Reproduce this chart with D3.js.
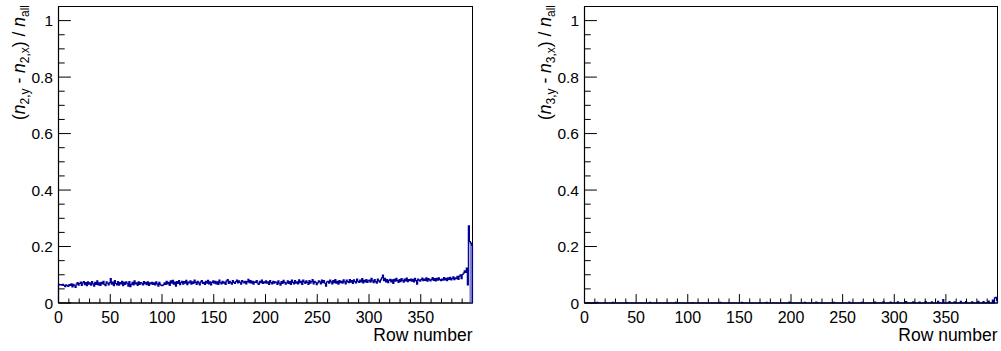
<!DOCTYPE html>
<html>
<head>
<meta charset="utf-8">
<script src="https://cdn.jsdelivr.net/npm/d3@7"></script>
<style>
  html, body { margin: 0; padding: 0; background: #fff; }
  svg { display: block; font-family: "Liberation Sans", Arial, sans-serif; }
</style>
</head>
<body>
<svg id="chart" width="1001" height="351"></svg>
<script>
// Row-by-row asymmetry, 400 rows (bins of width 1)
const rowCount = 400;

// (n2,y - n2,x) / n_all for rows 0..399
const asym2 = [
  0.066,0.064,0.065,0.063,0.066,0.062,0.058,0.064,0.061,0.059,
  0.065,0.062,0.068,0.057,0.066,0.061,0.055,0.067,0.072,0.063,
  0.069,0.074,0.062,0.071,0.076,0.065,0.072,0.061,0.075,0.067,
  0.071,0.063,0.076,0.068,0.060,0.073,0.066,0.078,0.064,0.071,
  0.062,0.073,0.068,0.077,0.066,0.061,0.075,0.070,0.064,0.072,
  0.086,0.067,0.074,0.061,0.079,0.069,0.064,0.076,0.063,0.072,
  0.068,0.077,0.061,0.073,0.066,0.075,0.070,0.060,0.076,0.058,
  0.066,0.073,0.064,0.078,0.068,0.071,0.062,0.075,0.066,0.072,
  0.070,0.064,0.076,0.068,0.073,0.065,0.075,0.062,0.071,0.068,
  0.073,0.066,0.071,0.064,0.075,0.068,0.060,0.073,0.066,0.062,
  0.061,0.065,0.071,0.066,0.077,0.068,0.073,0.062,0.078,0.070,
  0.080,0.067,0.074,0.060,0.076,0.069,0.079,0.065,0.072,0.077,
  0.067,0.076,0.070,0.080,0.065,0.074,0.071,0.078,0.067,0.075,
  0.069,0.081,0.073,0.066,0.077,0.071,0.064,0.075,0.079,0.069,
  0.073,0.066,0.077,0.070,0.080,0.068,0.075,0.064,0.073,0.078,
  0.070,0.077,0.068,0.075,0.066,0.081,0.072,0.068,0.077,0.070,
  0.074,0.066,0.078,0.083,0.069,0.077,0.072,0.067,0.079,0.073,
  0.069,0.076,0.081,0.071,0.078,0.073,0.067,0.079,0.075,0.071,
  0.077,0.068,0.076,0.084,0.072,0.079,0.070,0.077,0.067,0.075,
  0.073,0.079,0.070,0.066,0.077,0.072,0.081,0.069,0.075,0.071,
  0.078,0.070,0.075,0.066,0.079,0.072,0.068,0.077,0.070,0.075,
  0.073,0.066,0.078,0.070,0.063,0.076,0.069,0.080,0.073,0.067,
  0.071,0.078,0.069,0.076,0.066,0.081,0.073,0.068,0.079,0.070,
  0.075,0.068,0.082,0.072,0.077,0.066,0.081,0.075,0.069,0.078,
  0.073,0.066,0.079,0.070,0.076,0.083,0.068,0.077,0.073,0.065,
  0.071,0.078,0.075,0.068,0.081,0.072,0.079,0.070,0.060,0.075,
  0.077,0.070,0.081,0.075,0.068,0.079,0.072,0.083,0.070,0.077,
  0.067,0.079,0.072,0.077,0.070,0.082,0.075,0.068,0.081,0.076,
  0.072,0.083,0.074,0.079,0.069,0.082,0.076,0.071,0.085,0.077,
  0.073,0.081,0.075,0.086,0.071,0.080,0.075,0.083,0.073,0.078,
  0.081,0.074,0.087,0.078,0.072,0.083,0.076,0.070,0.085,0.078,
  0.074,0.082,0.089,0.099,0.079,0.087,0.075,0.083,0.072,0.080,
  0.084,0.075,0.082,0.069,0.084,0.077,0.087,0.079,0.073,0.083,
  0.076,0.086,0.080,0.074,0.085,0.078,0.088,0.076,0.083,0.079,
  0.085,0.077,0.084,0.075,0.087,0.079,0.067,0.085,0.081,0.077,
  0.083,0.088,0.079,0.085,0.080,0.089,0.077,0.086,0.082,0.078,
  0.084,0.090,0.080,0.086,0.078,0.087,0.081,0.089,0.083,0.079,
  0.085,0.081,0.090,0.082,0.087,0.079,0.089,0.084,0.091,0.082,
  0.086,0.093,0.083,0.089,0.086,0.094,0.084,0.095,0.100,0.086,
  0.101,0.106,0.114,0.108,0.124,0.064,0.273,0.217,0.212,0.205
];

// (n3,y - n3,x) / n_all: rows with a non-zero value (all other rows are 0)
const asym3Rows = [12, 27, 41, 63, 88, 104, 131, 152, 176, 198, 213, 224, 241, 256, 268,
  281, 289, 296, 303, 311, 318, 324, 330, 336, 342, 347, 353, 358, 364, 369, 375, 381,
  386, 391, 395, 397, 398, 399];
const asym3Vals = [0.002, 0.002, 0.001, 0.002, 0.002, 0.001, 0.002, 0.002, 0.002, 0.003,
  0.002, 0.003, 0.002, 0.003, 0.002, 0.003, 0.004, 0.003, 0.004, 0.005, 0.004, 0.003,
  0.005, 0.004, 0.006, 0.012, 0.005, 0.004, 0.006, 0.005, 0.004, 0.006, 0.005, 0.007,
  0.010, 0.018, 0.020, 0.008];

const asym3 = new Array(rowCount).fill(0);
asym3Rows.forEach((r, i) => { asym3[r] = asym3Vals[i]; });

const xTickValues = [0, 50, 100, 150, 200, 250, 300, 350];
const yTickValues = [0, 0.2, 0.4, 0.6, 0.8, 1];
const yTickLabels = ["0", "0.2", "0.4", "0.6", "0.8", "1"];
const xTitle = "Row number";

const lineColor = "#000099";
const edgeFill = "#8585cf";

const svg = d3.select("#chart");

function drawPanel(opts) {
  const { left, right, top, bottom, values, idx, edgeFrom } = opts;
  const g = svg.append("g");

  const x = d3.scaleLinear().domain([0, rowCount]).range([left, right]);
  const y = d3.scaleLinear().domain([0, 1.05]).range([bottom, top]);

  // frame
  g.append("rect")
    .attr("x", left).attr("y", top)
    .attr("width", right - left).attr("height", bottom - top)
    .attr("fill", "none").attr("stroke", "#000").attr("stroke-width", 1);

  // filled area under the last rows
  if (edgeFrom != null) {
    const tail = values.slice(edgeFrom).map((v, i) => ({ i: edgeFrom + i, v }));
    let d = `M${x(edgeFrom)},${y(0)}`;
    tail.forEach(p => { d += `L${x(p.i)},${y(p.v)}L${x(p.i + 1)},${y(p.v)}`; });
    d += `L${x(rowCount)},${y(0)}Z`;
    g.append("path").attr("d", d).attr("fill", edgeFill).attr("stroke", "none");
  }

  // histogram step line
  let path = `M${x(0)},${y(0)}`;
  values.forEach((v, i) => { path += `L${x(i)},${y(v)}L${x(i + 1)},${y(v)}`; });
  path += `L${x(rowCount)},${y(0)}`;
  g.append("path").attr("d", path)
    .attr("fill", "none").attr("stroke", lineColor)
    .attr("stroke-width", 1.2).attr("stroke-linejoin", "miter");

  // x axis ticks
  const xMinor = d3.range(0, rowCount, 10);
  g.selectAll(".xt").data(xMinor).join("line")
    .attr("x1", d => x(d)).attr("x2", d => x(d))
    .attr("y1", bottom)
    .attr("y2", d => bottom - (d % 50 === 0 ? 8.9 : 4.5))
    .attr("stroke", "#000").attr("stroke-width", 1);
  g.append("line").attr("x1", left).attr("x2", right)
    .attr("y1", bottom).attr("y2", bottom)
    .attr("stroke", "#000").attr("stroke-width", 1.2);

  g.selectAll(".xl").data(xTickValues).join("text")
    .attr("x", d => x(d)).attr("y", bottom + 19.5)
    .attr("text-anchor", "middle").attr("font-size", 16)
    .text(d => d);

  g.append("text")
    .attr("x", right).attr("y", bottom + 37.5)
    .attr("text-anchor", "end").attr("font-size", 17.5)
    .text(xTitle);

  // y axis ticks
  const yMinor = d3.range(0, 21).map(k => k * 0.05);
  g.selectAll(".yt").data(yMinor).join("line")
    .attr("x1", left)
    .attr("x2", (d, k) => left + (k % 4 === 0 ? 12.4 : 6.2))
    .attr("y1", d => y(d)).attr("y2", d => y(d))
    .attr("stroke", "#000").attr("stroke-width", 1);
  g.append("line").attr("x1", left).attr("x2", left)
    .attr("y1", top).attr("y2", bottom)
    .attr("stroke", "#000").attr("stroke-width", 1.2);

  g.selectAll(".yl").data(yTickValues).join("text")
    .attr("x", left - 5.5).attr("y", d => y(d))
    .attr("dy", "0.36em")
    .attr("text-anchor", "end").attr("font-size", 15.5)
    .text((d, k) => yTickLabels[k]);

  // y axis title: (n_{k,y} - n_{k,x}) / n_{all}
  const t = g.append("text")
    .attr("transform", `translate(${left - 34},${top - 1.5}) rotate(-90)`)
    .attr("text-anchor", "end").attr("font-size", 17.5);
  const sub = (s) => {
    t.append("tspan").attr("font-size", 12).attr("dy", 4).text(s);
  };
  t.append("tspan").text("(");
  t.append("tspan").attr("font-style", "italic").text("n");
  sub(`${idx},y`);
  t.append("tspan").attr("dy", -4).text(" - ");
  t.append("tspan").attr("font-style", "italic").text("n");
  sub(`${idx},x`);
  t.append("tspan").attr("dy", -4).text(") / ");
  t.append("tspan").attr("font-style", "italic").text("n");
  sub("all");
}

drawPanel({ left: 58.5, right: 472.5, top: 6.5, bottom: 303, values: asym2, idx: 2, edgeFrom: 397 });
drawPanel({ left: 584.5, right: 997.5, top: 6.5, bottom: 303, values: asym3, idx: 3, edgeFrom: null });
</script>
</body>
</html>
